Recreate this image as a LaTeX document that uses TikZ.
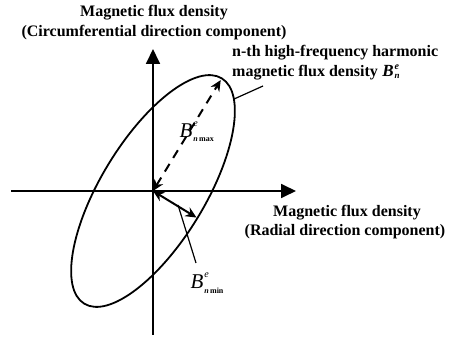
\documentclass[tikz,border=0pt]{standalone}
\usepackage{fontspec}
\setmainfont{Liberation Serif}
\usetikzlibrary{arrows.meta}
\begin{document}
\begin{tikzpicture}[x=1pt,y=1pt,
  lbl/.style={font=\fontsize{16}{19}\selectfont\bfseries, inner sep=0pt},
  sym/.style={font=\fontsize{21}{21}\selectfont\itshape, inner sep=0pt},
  symb/.style={font=\fontsize{17}{17}\selectfont\bfseries\itshape, inner sep=0pt},
  supl/.style={font=\fontsize{10}{10}\selectfont\itshape, inner sep=0pt, anchor=south west},
  subl/.style={font=\fontsize{8}{8}\selectfont\bfseries, inner sep=0pt, anchor=north west},
  axis/.style={line width=1.8pt, -{Triangle[length=15pt,width=14pt]}},
  curve/.style={line width=1.8pt},
  dimarrow/.style={line width=2pt, {Stealth[length=11pt,width=10pt]}-{Stealth[length=11pt,width=10pt]}},
  leader/.style={line width=1.2pt}]
\useasboundingbox (0,0) rectangle (457,339);
\coordinate (O) at (153,148);
\coordinate (yb) at (153,4);
\coordinate (yt) at (153,290);
\coordinate (xl) at (11,148);
\coordinate (xr) at (296,148);
\draw[axis] (yb) -- (yt);
\draw[axis] (xl) -- (xr);
\draw[curve, rotate around={58.6:(O)}] (O) ellipse [x radius=132pt, y radius=52pt];
\coordinate (A) at ([shift={(58.6:130pt)}]O);
\coordinate (M) at ([shift={(-31.4:51pt)}]O);
\draw[dimarrow, dash pattern=on 9pt off 7pt] (O) -- (A);
\draw[dimarrow] (O) -- (M);
% leaders
\coordinate (E) at (233.9,239.9);
\coordinate (Ee) at (263,253);
\draw[leader] (E) -- (Ee);
\coordinate (Ls) at (178,134);
\coordinate (Le) at (196,76);
\draw[leader] (Ls) -- (Le);
% labels
\node[lbl] (t1) at (154,326) {Magnetic flux density};
\node[lbl] (t2) at (154,306) {(Circumferential direction component)};
\node[lbl, anchor=west] (t3) at (232,286) {n-th high-frequency harmonic};
\node[lbl, anchor=west] (t4) at (232,266) {magnetic flux density};
\node[symb, anchor=base west] (bn) at ([xshift=4pt]t4.base east) {B};
\node[supl, font=\fontsize{10}{10}\selectfont\bfseries\itshape] (bne) at ([xshift=0.5pt,yshift=-4pt]bn.north east) {e};
\node[subl, font=\fontsize{9}{9}\selectfont\bfseries\itshape] (bnn) at ([xshift=0.5pt,yshift=3pt]bn.south east) {n};
\node[lbl] (t5) at (347,126) {Magnetic flux density};
\node[lbl] (t6) at (345,107) {(Radial direction component)};
% B max
\node[sym] (bmax) at (186,208) {B};
\node[supl] (bmaxe) at ([xshift=0.5pt,yshift=-3pt]bmax.north east) {e};
\node[subl] (bmaxs) at ([xshift=0.5pt,yshift=1pt]bmax.south east) {\textit{n}\,max};
% B min
\node[sym] (bmin) at (197,57) {B};
\node[supl] (bmine) at ([xshift=0.5pt,yshift=-3pt]bmin.north east) {e};
\node[subl] (bmins) at ([xshift=0.5pt,yshift=1pt]bmin.south east) {\textit{n}\,min};
\end{tikzpicture}
\end{document}
